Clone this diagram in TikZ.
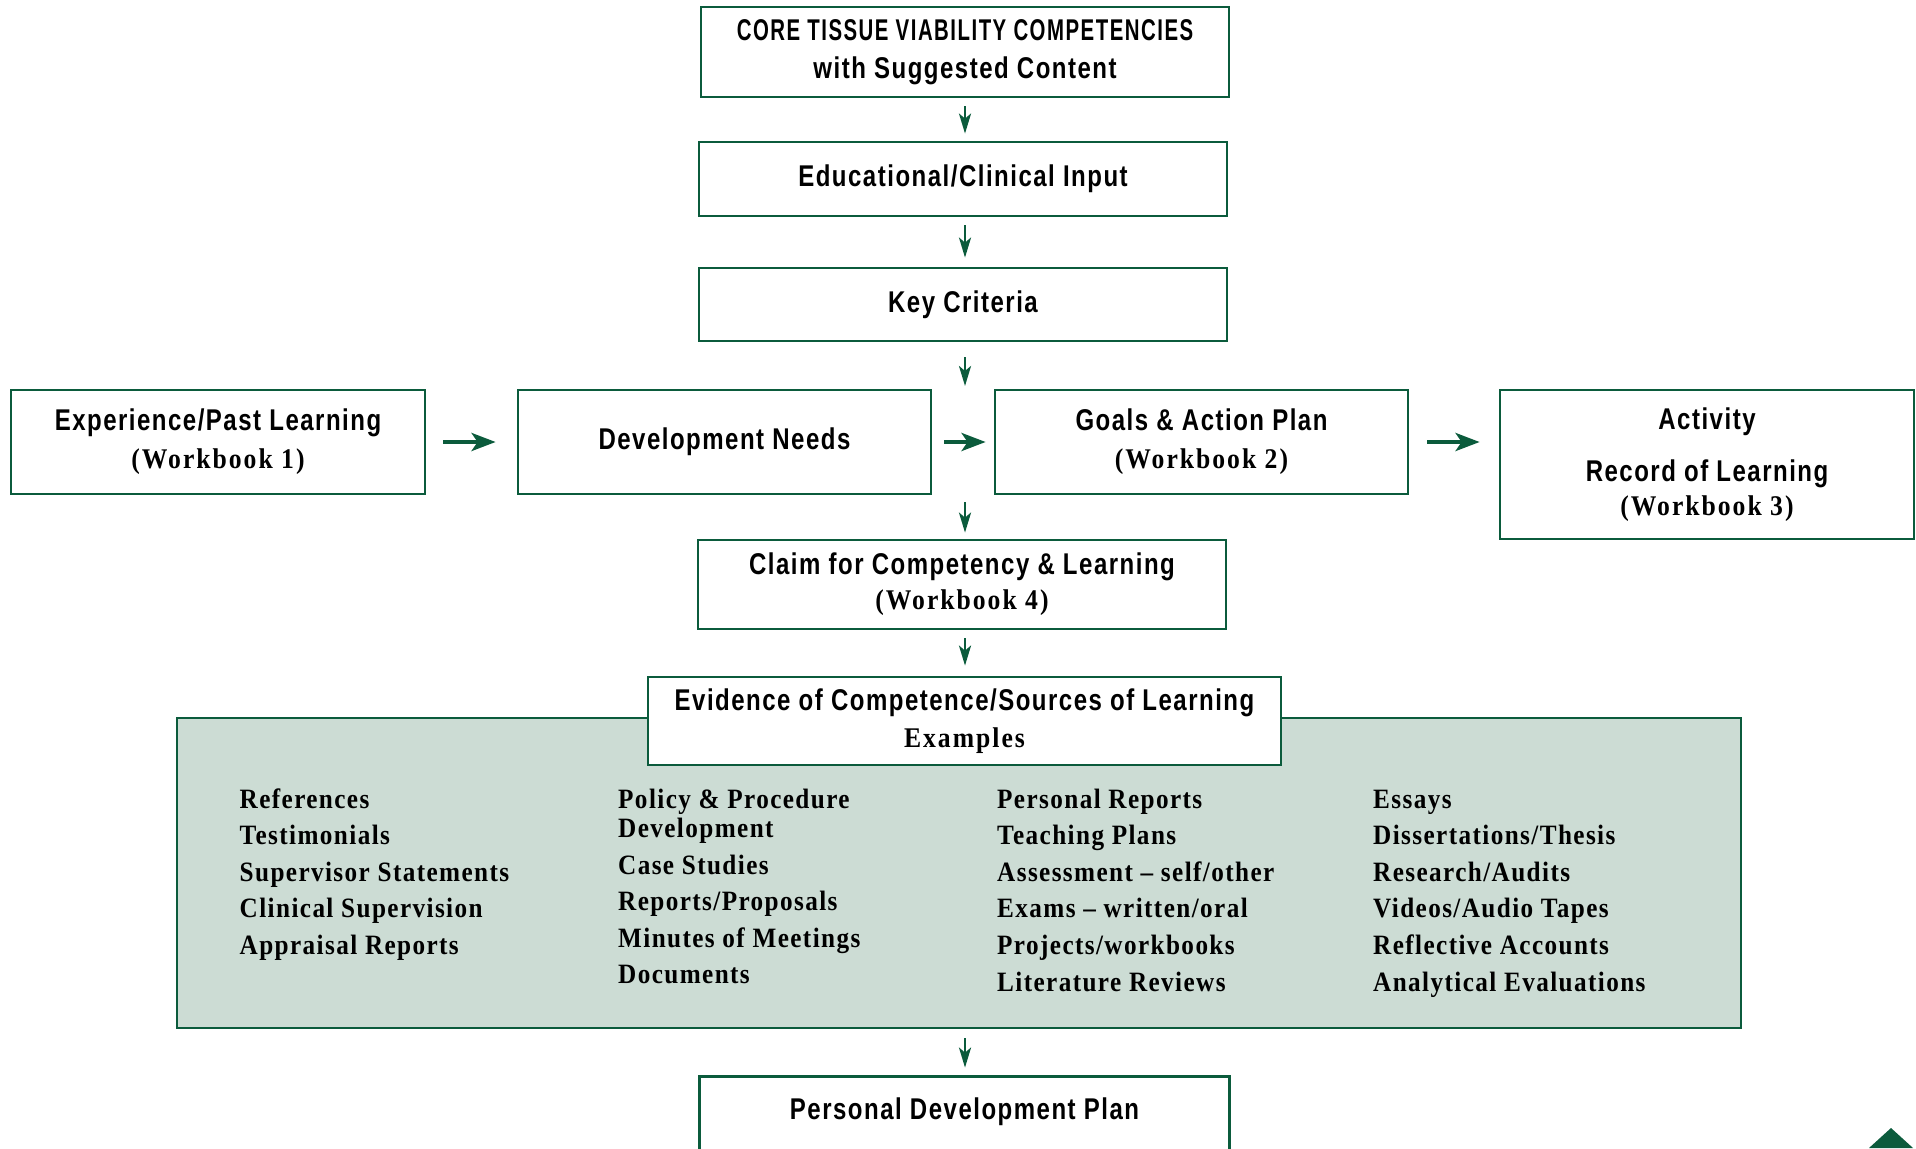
\documentclass[tikz,border=0pt]{standalone}
\usepackage{fontspec}
\usetikzlibrary{arrows.meta}
\newfontfamily\headfont{Liberation Sans}[FakeStretch=0.8,LetterSpace=5]
\newfontfamily\capsfont{Liberation Sans}[FakeStretch=0.68,LetterSpace=5]
\newfontfamily\listfont{Liberation Serif}[FakeStretch=0.9,LetterSpace=5]
\newfontfamily\wbfont{Liberation Serif}[FakeStretch=0.9,LetterSpace=7]
\definecolor{tvgreen}{HTML}{0B5B3C}
\definecolor{tvpanel}{HTML}{CCDCD4}
\newcommand{\wbk}[1]{{\wbfont\fontsize{28.5}{30}\selectfont(Workbook~#1)}}

\begin{document}
\begin{tikzpicture}[x=1pt,y=-1pt,
  box/.style={draw=tvgreen,line width=2.8pt,fill=white,align=center,inner sep=0pt,
    font=\headfont\bfseries\fontsize{30}{38}\selectfont},
  arr/.style={draw=tvgreen,line width=2.8pt,-{Stealth[length=20pt,width=12pt,inset=5pt]}},
  harr/.style={draw=tvgreen,line width=4pt,-{Stealth[length=24pt,width=18pt,inset=6pt]}},
  item/.style={anchor=base west,inner sep=0pt,font=\listfont\bfseries\fontsize{28}{30}\selectfont}]
  \useasboundingbox (0,0) rectangle (1916,1148);

  % main column
  \node[box,minimum width=528pt,minimum height=90pt] (core) at (965,52)
    {{\capsfont CORE TISSUE VIABILITY COMPETENCIES}\\with Suggested Content};
  \node[box,minimum width=528pt,minimum height=74pt] (input) at (963,179) {Educational/Clinical Input};
  \node[box,minimum width=528pt,minimum height=73pt] (crit) at (963,304.5) {Key Criteria};

  % middle row
  \node[box,minimum width=414pt,minimum height=104pt] (past) at (218,442)
    {Experience/Past Learning\\\wbk{1}};
  \node[box,minimum width=413pt,minimum height=104pt] (needs) at (724.5,442) {Development Needs};
  \node[box,minimum width=413pt,minimum height=104pt] (goals) at (1201.5,442)
    {Goals \& Action Plan\\\wbk{2}};
  \node[box,minimum width=414pt,minimum height=149pt] (act) at (1707,464.5)
    {Activity\\[14pt]Record of Learning\\[-4pt]\wbk{3}};
  \coordinate (gapT) at (965,390);
  \coordinate (gapB) at (965,494);

  \node[box,minimum width=528pt,minimum height=89pt] (claim) at (962,584.5)
    {Claim for Competency \& Learning\\[-3pt]\wbk{4}};

  % evidence panel
  \node[draw=tvgreen,line width=2.8pt,fill=tvpanel,minimum width=1564pt,minimum height=310pt,
    inner sep=0pt] (panel) at (959,873) {};
  \node[box,minimum width=633pt,minimum height=88pt] (evid) at (964.5,721)
    {Evidence of Competence/Sources of Learning\\[-1.5pt]{\wbfont\fontsize{28.5}{30}\selectfont Examples}};

  \foreach \txt [count=\i] in {References,Testimonials,Supervisor Statements,
      Clinical Supervision,Appraisal Reports}
    \node[item] (ca\i) at (239.5,{771.4+36.6*\i}) {\txt};
  \node[item] (cb0) at (618,808) {Policy \& Procedure};
  \node[item] (cb1) at (618,837) {Development};
  \foreach \txt [count=\i] in {Case Studies,Reports/Proposals,Minutes of Meetings,Documents}
    \node[item] (cb\i x) at (618,{837.4+36.6*\i}) {\txt};
  \foreach \txt [count=\i] in {Personal Reports,Teaching Plans,Assessment – self/other,
      Exams – written/oral,Projects/workbooks,Literature Reviews}
    \node[item] (cc\i) at (997,{771.4+36.6*\i}) {\txt};
  \foreach \txt [count=\i] in {Essays,Dissertations/Thesis,Research/Audits,
      Videos/Audio Tapes,Reflective Accounts,Analytical Evaluations}
    \node[item] (cd\i) at (1373,{771.4+36.6*\i}) {\txt};

  % last box runs off the page
  \node[box,draw=none,fill=none,minimum width=527pt,minimum height=68pt] (pdp) at (964.5,1112)
    {Personal Development Plan};
  \draw[tvgreen,line width=2.8pt] ([yshift=-30pt]pdp.south west) |- (pdp.north east)
    -- ([yshift=-30pt]pdp.south east);

  % connectors
  \draw[arr,shorten <=8pt,shorten >=7pt] (core.south -| 965,0) -- (input.north -| 965,0);
  \draw[arr,shorten <=8pt,shorten >=9pt] (input.south -| 965,0) -- (crit.north -| 965,0);
  \draw[arr,shorten <=15pt,shorten >=4pt] (crit.south -| gapT) -- (gapT);
  \draw[arr,shorten <=8pt,shorten >=6pt] (gapB) -- (claim.north -| gapB);
  \draw[arr,shorten <=8pt,shorten >=10pt] (claim.south -| gapB) -- (evid.north -| gapB);
  \draw[arr,shorten <=9pt,shorten >=9pt] (panel.south -| gapB) -- (pdp.north -| gapB);
  \draw[harr,shorten <=17pt,shorten >=21pt] (past.east) -- (needs.west);
  \draw[harr,shorten <=12pt,shorten >=8pt] (needs.east) -- (goals.west);
  \draw[harr,shorten <=18pt,shorten >=19pt] (goals.east) -- (goals.east -| act.west);

  % page corner mark
  \fill[tvgreen] (1869,1148) -- (1891,1128) -- (1913,1148) -- cycle;
\end{tikzpicture}
\end{document}
